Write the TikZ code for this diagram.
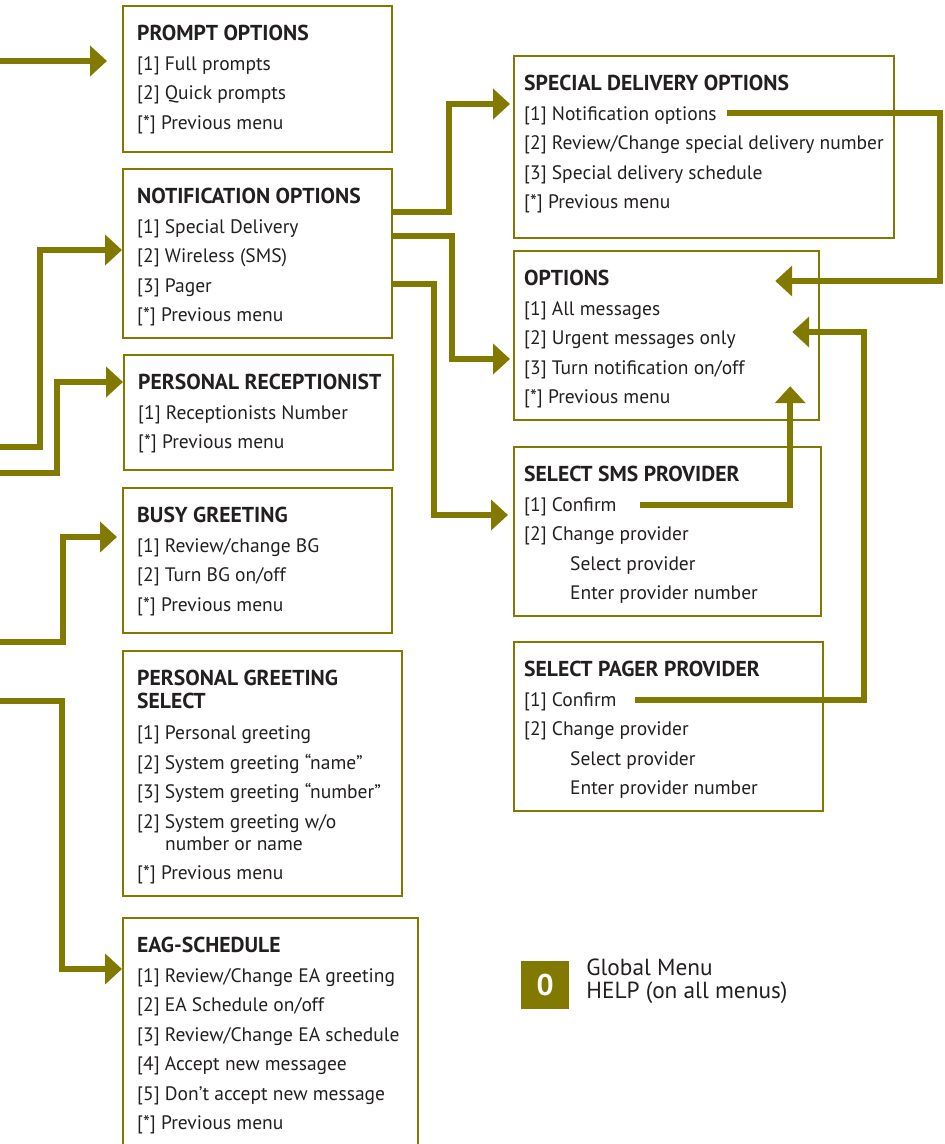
\documentclass[tikz,border=0pt]{standalone}
\usepackage{fontspec}
\setmainfont{PT Sans}
\usetikzlibrary{arrows.meta}
\definecolor{menuolive}{RGB}{130,122,0}
\definecolor{menuink}{RGB}{35,31,32}
\newcommand{\mitem}[2]{{[#1]} #2}
\newcommand{\mtitle}[1]{{\fontsize{21.6}{29.5}\selectfont\bfseries #1}}

\begin{document}
\begin{tikzpicture}[x=1pt, y=-1pt,
	menubox/.style={draw=menuolive, line width=2.2pt, anchor=north west, inner sep=0pt},
	menutext/.style={anchor=north west, inner sep=0pt, align=left, text=menuink, font=\fontsize{19.5}{29.5}\selectfont},
	link/.style={draw=menuolive, line width=5.5pt, -{Triangle[length=17pt, width=30pt]}}]
			\useasboundingbox (0,0) rectangle (945,1144);
			
			% left column
			\node[menubox, minimum width=269pt, minimum height=146pt] (prompt) at (122,5) {};
			\node[menubox, minimum width=269pt, minimum height=169pt] (notif) at (122,168) {};
			\node[menubox, minimum width=269pt, minimum height=115pt] (recep) at (123,354) {};
			\node[menubox, minimum width=269pt, minimum height=145pt] (busy) at (122,487) {};
			\node[menubox, minimum width=279pt, minimum height=245pt] (pgreet) at (122,650) {};
			\node[menubox, minimum width=295pt, minimum height=233pt] (eag) at (122,917) {};
			
			% right column
			\node[menubox, minimum width=380pt, minimum height=182pt] (sd) at (513,55) {};
			\node[menubox, minimum width=305pt, minimum height=169pt] (opts) at (513,250) {};
			\node[menubox, minimum width=307pt, minimum height=169pt] (sms) at (513,446) {};
			\node[menubox, minimum width=309pt, minimum height=169pt] (pager) at (513,641) {};
			
			\node[menutext] (prompttext) at ([shift={(15pt,-15pt)}]prompt.north west) {\strut\mtitle{PROMPT OPTIONS}\\
				\mitem{1}{Full prompts}\\ \mitem{2}{Quick prompts}\\ \mitem{*}{Previous menu}};
			\node[menutext] (notiftext) at ([shift={(15pt,-15pt)}]notif.north west) {\strut\mtitle{NOTIFICATION OPTIONS}\\
				\mitem{1}{Special Delivery}\\ \mitem{2}{Wireless (SMS)}\\ \mitem{3}{Pager}\\ \mitem{*}{Previous menu}};
			\node[menutext] (receptext) at ([shift={(15pt,-15pt)}]recep.north west) {\strut\mtitle{PERSONAL RECEPTIONIST}\\
				\mitem{1}{Receptionists Number}\\ \mitem{*}{Previous menu}};
			\node[menutext] (busytext) at ([shift={(15pt,-15pt)}]busy.north west) {\strut\mtitle{BUSY GREETING}\\
				\mitem{1}{Review/change BG}\\ \mitem{2}{Turn BG on/off}\\ \mitem{*}{Previous menu}};
			\node[menutext] (pgreettext) at ([shift={(15pt,-15pt)}]pgreet.north west) {\strut\mtitle{PERSONAL GREETING}\\[-6.5pt]
				\mtitle{SELECT}\\[1.5pt]
				\mitem{1}{Personal greeting}\\ \mitem{2}{System greeting “name”}\\ \mitem{3}{System greeting “number”}\\
				\mitem{2}{System greeting w/o}\\[-7.5pt] \hspace*{28pt}number or name\\ \mitem{*}{Previous menu}};
			\node[menutext] (eagtext) at ([shift={(15pt,-15pt)}]eag.north west) {\strut\mtitle{EAG-SCHEDULE}\\
				\mitem{1}{Review/Change EA greeting}\\ \mitem{2}{EA Schedule on/off}\\ \mitem{3}{Review/Change EA schedule}\\
				\mitem{4}{Accept new messagee}\\ \mitem{5}{Don’t accept new message}\\ \mitem{*}{Previous menu}};
			
			\node[menutext] (sdtext) at ([shift={(11pt,-15pt)}]sd.north west) {\strut\mtitle{SPECIAL DELIVERY OPTIONS}\\
				\mitem{1}{Notification options}\\ \mitem{2}{Review/Change special delivery number}\\
				\mitem{3}{Special delivery schedule}\\ \mitem{*}{Previous menu}};
			\node[menutext] (optstext) at ([shift={(11pt,-15pt)}]opts.north west) {\strut\mtitle{OPTIONS}\\
				\mitem{1}{All messages}\\ \mitem{2}{Urgent messages only}\\ \mitem{3}{Turn notification on/off}\\ \mitem{*}{Previous menu}};
			\node[menutext] (smstext) at ([shift={(11pt,-15pt)}]sms.north west) {\strut\mtitle{SELECT SMS PROVIDER}\\
				\mitem{1}{Confirm}\\ \mitem{2}{Change provider}\\ \hspace*{46pt}Select provider\\ \hspace*{46pt}Enter provider number};
			\node[menutext] (pagertext) at ([shift={(11pt,-15pt)}]pager.north west) {\strut\mtitle{SELECT PAGER PROVIDER}\\
				\mitem{1}{Confirm}\\ \mitem{2}{Change provider}\\ \hspace*{46pt}Select provider\\ \hspace*{46pt}Enter provider number};
			
			% entries coming in from the left
			\coordinate (inprompt) at (0,61);
			\coordinate (innotif) at (0,447);
			\coordinate (inrecep) at (0,473);
			\coordinate (inbusy) at (0,642);
			\coordinate (ineag) at (0,701);
			
			\draw[link] (inprompt) -- ([xshift=-15pt]prompt.west |- inprompt);
			\draw[link] (innotif) -- ++(40,0) |- ([yshift=-82pt]notif.north west);
			\draw[link] (inrecep) -- ++(57,0) |- ([yshift=-28pt]recep.north west);
			\draw[link] (inbusy) -- ++(63,0) |- ([xshift=-5pt, yshift=-50pt]busy.north west);
			\draw[link] (ineag) -- ++(62,0) |- ([yshift=-52pt]eag.north west);
			
			% notification options to the right column
			\draw[link] ([yshift=-44pt]notif.north east) -- ++(56,0) |- ([xshift=-3pt, yshift=-49pt]sd.north west);
			\draw[link] ([yshift=-68pt]notif.north east) -- ++(59,0) |- ([xshift=-3pt, yshift=-109pt]opts.north west);
			\draw[link] ([yshift=-116pt]notif.north east) -- ++(41,0) |- ([xshift=-5pt, yshift=-69pt]sms.north west);
			
			% back to the options menu
			\draw[link] ([xshift=214pt, yshift=-58pt]sd.north west) -- ++(213,0) |- ([xshift=-45pt, yshift=-31pt]opts.north east);
			\draw[link] ([xshift=127pt, yshift=-59pt]sms.north west) -| ([xshift=-30pt, yshift=35pt]opts.south east);
			\draw[link] ([xshift=122pt, yshift=-59pt]pager.north west) -- ++(229,0) |- ([xshift=-28pt, yshift=-82pt]opts.north east);
			
			% global menu key
			\node[fill=menuolive, minimum size=48pt, inner sep=0pt, text=white, font=\fontsize{30}{32}\selectfont\bfseries] (zero) at (545,985) {0};
			\node[anchor=west, align=left, inner sep=0pt, text=menuink, font=\fontsize{23.3}{23.5}\selectfont] (globaltext) at ([xshift=17pt, yshift=3.5pt]zero.east) {Global Menu\\HELP (on all menus)};
		\end{tikzpicture}
\end{document}
